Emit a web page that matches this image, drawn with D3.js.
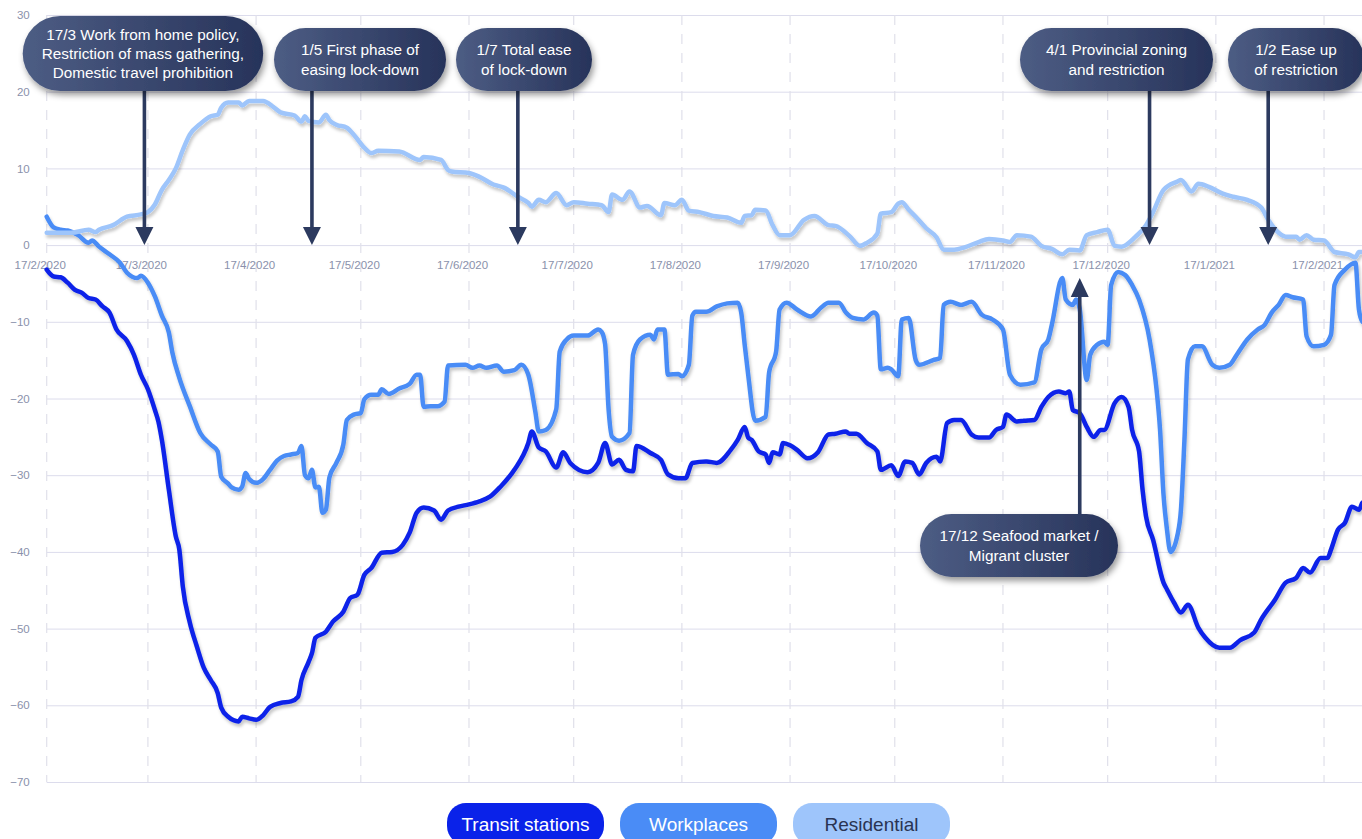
<!DOCTYPE html>
<html>
<head>
<meta charset="utf-8">
<script src="https://cdn.jsdelivr.net/npm/d3@7"></script>
<style>
body { margin: 0; background: #fff; }
svg { display: block; font-family: "Liberation Sans", Arial, Helvetica, sans-serif; }
</style>
</head>
<body>
<script>
// plot frame
var W = 1362, H = 839;
var left_pad = 46.7, top_y = 15, bottom_y = 782;
var px_per_day = 3.49, n_days = 380;

// x values are days counted from 17/2/2020
var start_label = "17/2/2020";
var x_tick_labels = ["17/2/2020","17/3/2020","17/4/2020","17/5/2020","17/6/2020","17/7/2020","17/8/2020",
	"17/9/2020","17/10/2020","17/11/2020","17/12/2020","17/1/2021","17/2/2021"];
var y_ticks = [30, 20, 10, 0, -10, -20, -30, -40, -50, -60, -70];
var series_names = ["Transit stations", "Workplaces", "Residential"];

var transit = [[0,-3.2],[2,-4.1],[4,-4.2],[6,-4.9],[8,-5.8],[10,-6.2],[12,-6.9],[14,-7.1],[16,-8.0],[18,-8.8],
	[20,-11.0],[23,-12.5],[25,-14.3],[27,-16.9],[29,-18.8],[31,-21.5],[32,-23.0],[33,-25.4],[35,-31.9],[37,-38.0],
	[38,-39.7],[39,-44.5],[41,-49.2],[43,-52.3],[45,-55.1],[47,-56.7],[49,-58.4],[50,-60.3],[52,-61.5],[55,-62.1],
	[56,-61.5],[58,-61.7],[60,-61.9],[62,-61.3],[64,-60.2],[67,-59.7],[70,-59.5],[72,-58.9],[73,-56.7],[75,-54.4],
	[76,-53.2],[77,-51.2],[80,-50.4],[82,-49.1],[85,-47.8],[87,-46.0],[89,-45.6],[91,-43.0],[93,-42.1],[96,-40.1],
	[99,-40.0],[102,-39.1],[104,-37.5],[106,-34.9],[108,-34.2],[111,-34.6],[113,-35.8],[115,-34.6],[118,-34.1],[121,-33.8],
	[124,-33.4],[127,-32.8],[130,-31.5],[134,-29.3],[138,-25.8],[139,-24.3],[141,-26.4],[143,-26.9],[146,-29.0],[148,-27.0],
	[150,-28.4],[155,-29.6],[158,-28.4],[160,-25.8],[162,-28.6],[164,-28.0],[166,-29.3],[168,-29.5],[169,-26.2],[173,-27.1],
	[176,-28.0],[178,-29.9],[181,-30.4],[183,-30.4],[185,-28.4],[189,-28.2],[192,-28.4],[196,-26.7],[198,-25.4],[200,-23.7],
	[201,-25.1],[202,-25.4],[204,-26.9],[206,-27.3],[207,-28.4],[208,-27.0],[210,-27.3],[211,-25.8],[213,-26.1],[215,-26.7],
	[218,-27.8],[221,-27.0],[224,-24.7],[226,-24.6],[229,-24.3],[230,-24.6],[232,-24.6],[235,-25.8],[238,-26.9],[239,-29.3],
	[242,-28.7],[244,-30.1],[246,-28.2],[248,-28.4],[250,-29.9],[252,-28.4],[255,-27.6],[256,-28.2],[258,-23.2],[260,-22.8],
	[262,-22.8],[265,-24.7],[267,-25.1],[270,-25.1],[272,-24.1],[274,-23.7],[275,-22.1],[278,-23.0],[280,-22.9],[283,-22.8],
	[285,-21.1],[287,-19.8],[290,-19.1],[292,-19.3],[293,-19.1],[294,-21.5],[296,-21.9],[298,-23.7],[300,-25.0],[302,-24.1],
	[303,-24.1],[306,-20.6],[308,-19.8],[310,-21.1],[311,-24.1],[313,-26.9],[314,-31.9],[315,-35.4],[317,-38.4],[320,-44.0],
	[321,-44.9],[323,-46.6],[325,-47.9],[327,-46.9],[330,-49.9],[332,-51.2],[336,-52.5],[339,-52.5],[342,-51.5],[346,-50.5],
	[348,-48.8],[352,-46.2],[355,-44.0],[358,-43.4],[360,-42.1],[362,-42.7],[365,-40.8],[367,-40.8],[368,-39.7],[370,-37.1],
	[372,-36.2],[374,-34.1],[376,-34.5],[377,-33.6],[379,-33.2]];

var workplaces = [[0,3.7],[2,2.3],[4,2.0],[6,1.9],[9,1.3],[12,0.3],[13,0.6],[15,-0.2],[18,-1.2],[21,-2.3],
	[23,-3.6],[26,-4.3],[27,-4.0],[29,-4.9],[31,-6.7],[33,-9.2],[35,-11.4],[36,-14.0],[38,-17.3],[41,-21.0],
	[44,-24.5],[47,-26.0],[49,-26.9],[50,-30.2],[52,-31.1],[53,-31.6],[55,-31.9],[56,-31.5],[57,-29.7],[58,-30.5],
	[60,-31.0],[62,-30.5],[64,-29.3],[66,-28.1],[68,-27.5],[70,-27.3],[72,-27.1],[73,-26.2],[74,-30.0],[75,-30.4],
	[76,-29.3],[77,-31.6],[78,-31.5],[79,-34.9],[80,-34.5],[81,-30.3],[83,-28.4],[85,-26.0],[86,-22.8],[88,-22.1],
	[90,-21.9],[91,-20.1],[93,-19.5],[95,-19.5],[96,-18.8],[98,-19.4],[101,-18.7],[104,-18.1],[106,-16.9],[107,-16.9],
	[108,-21.1],[110,-21.0],[112,-21.0],[114,-20.4],[115,-15.7],[120,-15.6],[122,-16.0],[124,-15.7],[126,-16.0],[129,-15.7],
	[131,-16.5],[134,-16.3],[136,-15.6],[138,-16.9],[140,-21.7],[141,-24.3],[143,-24.1],[146,-21.4],[147,-13.9],[149,-12.3],
	[151,-11.8],[155,-11.8],[158,-11.0],[159,-11.3],[160,-12.9],[161,-21.4],[162,-25.0],[164,-25.5],[167,-24.5],[168,-14.3],
	[170,-12.3],[173,-11.7],[174,-12.3],[175,-11.0],[177,-11.0],[178,-16.9],[181,-16.8],[182,-17.1],[184,-15.6],[185,-9.2],
	[186,-8.7],[189,-8.7],[192,-8.0],[195,-7.6],[198,-7.5],[199,-8.8],[200,-13.0],[201,-16.9],[203,-22.9],[206,-22.4],
	[207,-16.6],[209,-13.9],[210,-8.4],[212,-7.5],[215,-8.4],[219,-9.3],[222,-8.1],[224,-7.5],[227,-7.5],[229,-8.8],
	[231,-9.5],[234,-9.7],[237,-8.8],[238,-9.2],[239,-16.2],[241,-16.0],[242,-16.2],[244,-17.1],[245,-9.7],[247,-9.5],
	[249,-15.0],[250,-15.6],[254,-15.0],[256,-14.7],[257,-7.8],[259,-7.4],[262,-7.8],[265,-7.4],[268,-9.1],[271,-9.7],
	[274,-11.0],[276,-16.9],[279,-18.2],[283,-17.9],[285,-13.6],[287,-12.3],[288,-10.4],[291,-4.3],[292,-7.1],[294,-7.8],
	[295,-7.1],[296,-8.3],[298,-17.6],[299,-14.3],[301,-13.0],[303,-12.6],[304,-13.0],[305,-5.2],[307,-3.5],[309,-3.9],
	[311,-5.2],[313,-7.1],[316,-12.3],[318,-18.8],[319,-24.0],[320,-32.5],[321,-37.1],[322,-40.0],[324,-37.8],[325,-34.5],
	[326,-25.4],[327,-14.9],[329,-13.2],[331,-13.2],[334,-15.6],[336,-16.0],[339,-15.6],[341,-14.3],[344,-12.3],[347,-11.0],
	[349,-10.4],[351,-8.8],[353,-7.8],[355,-6.5],[357,-6.8],[360,-7.1],[361,-11.9],[363,-13.2],[366,-13.0],[368,-11.7],
	[369,-5.2],[372,-3.2],[375,-2.3],[376,-8.4],[377,-10.0],[379,-10.5]];

var residential = [[0,1.6],[7,1.6],[12,2.0],[14,1.7],[15,2.0],[19,2.6],[23,3.7],[27,4.0],[29,4.3],[31,5.3],
	[33,7.2],[35,8.5],[37,10.0],[39,12.4],[41,14.4],[44,15.8],[47,16.8],[49,17.0],[50,17.9],[52,18.6],
	[55,18.6],[56,18.2],[58,18.8],[62,18.8],[65,18.0],[67,17.3],[71,16.9],[73,16.1],[74,16.8],[75,16.2],
	[78,16.0],[80,17.0],[81,16.3],[83,15.7],[86,15.3],[88,14.4],[91,12.7],[93,12.0],[95,12.3],[101,12.2],
	[107,11.1],[108,11.5],[113,11.1],[115,9.8],[116,9.6],[121,9.4],[124,8.9],[128,7.9],[131,7.5],[135,6.3],
	[138,5.5],[139,5.0],[141,5.9],[143,5.6],[146,6.8],[149,5.2],[151,5.6],[155,5.4],[159,5.2],[161,4.3],
	[162,6.6],[165,5.9],[167,7.0],[170,4.9],[172,5.1],[176,3.9],[177,5.5],[180,5.2],[182,5.9],[184,4.5],
	[187,4.3],[191,3.8],[195,3.6],[199,2.9],[200,3.8],[202,3.9],[203,4.6],[206,4.5],[208,2.6],[210,1.3],
	[213,1.3],[217,3.3],[220,3.8],[224,2.6],[226,2.5],[230,1.2],[233,-0.1],[235,0.3],[238,1.5],[239,4.1],
	[242,4.3],[244,5.4],[245,5.6],[247,4.6],[249,3.7],[252,2.2],[255,1.0],[257,-0.6],[260,-0.6],[263,-0.3],
	[267,0.4],[270,0.8],[274,0.6],[276,0.4],[278,1.3],[282,1.1],[285,-0.1],[288,-0.5],[291,-1.2],[293,-0.6],
	[296,-0.7],[298,1.3],[301,1.7],[304,2.0],[306,-0.1],[308,-0.2],[312,1.1],[315,2.6],[317,4.3],[320,7.2],
	[324,8.3],[325,8.5],[328,7.0],[330,8.0],[333,7.6],[337,6.7],[340,6.3],[344,5.9],[348,4.9],[350,3.3],
	[353,1.6],[355,1.1],[358,1.1],[359,0.7],[361,1.3],[363,0.7],[366,0.6],[369,-0.9],[373,-1.2],[375,-1.6],
	[376,-0.9],[379,-0.9]];

// events: label lines and the day each arrow points at
var event_labels = [
	["17/3 Work from home policy,", "Restriction of mass gathering,", "Domestic travel prohibition"],
	["1/5 First phase of", "easing lock-down"],
	["1/7 Total ease", "of lock-down"],
	["4/1 Provincial zoning", "and restriction"],
	["1/2 Ease up", "of restriction"],
	["17/12 Seafood market /", "Migrant cluster"]
];
var event_days = [28, 76, 135, 316, 350, 296];

// callout boxes (x, y, w, h) and arrow direction - layout only
var event_boxes = [[22.7,16,240.5,75],[274,28,172,63],[456,28,136,63],[1020,28,193,63],[1228,28,136,63],[920,514,198,63]];
var event_up = [false, false, false, false, false, true];

var line_colors = ["#0a22e9", "#4a8cf6", "#9ec5fb"];
var legend_text_colors = ["#ffffff", "#ffffff", "#2a3452"];

function plot_it() {
	var parse = d3.utcParse("%d/%m/%Y");
	var start = parse(start_label);
	var day = function(d) { return d3.utcDay.offset(start, d) };

	var xScale = d3.scaleUtc()
		.domain([start, day(n_days)])
		.range([left_pad, left_pad + n_days * px_per_day]);
	var yScale = d3.scaleLinear().domain([-70, 30]).range([bottom_y, top_y]);

	var svg = d3.select('body').append('svg').attr('width', W).attr('height', H);
	var defs = svg.append('defs');

	var f = defs.append('filter').attr('id', 'lineshadow').attr('x', '-5%').attr('y', '-5%').attr('width', '110%').attr('height', '110%');
	f.append('feDropShadow').attr('dx', 1.5).attr('dy', 3).attr('stdDeviation', 1.6)
		.attr('flood-color', '#000').attr('flood-opacity', 0.22);
	var f2 = defs.append('filter').attr('id', 'boxshadow').attr('x', '-10%').attr('y', '-20%').attr('width', '125%').attr('height', '150%');
	f2.append('feDropShadow').attr('dx', 2).attr('dy', 4).attr('stdDeviation', 3)
		.attr('flood-color', '#000').attr('flood-opacity', 0.4);
	var g = defs.append('linearGradient').attr('id', 'boxfill').attr('x1', 0).attr('x2', 1).attr('y1', 0).attr('y2', 0);
	g.append('stop').attr('offset', 0).attr('stop-color', '#4d5d84');
	g.append('stop').attr('offset', 1).attr('stop-color', '#27335a');

	// horizontal grid + y labels
	var yAxis = d3.axisLeft(yScale).tickValues(y_ticks).tickSize(-(W - left_pad)).tickPadding(17);
	var ya = svg.append('g').attr('transform', 'translate(' + left_pad + ',0)').call(yAxis);
	ya.select('.domain').remove();
	ya.selectAll('line').attr('stroke', '#dcdcec').attr('stroke-width', 1);
	ya.selectAll('text').attr('fill', '#8a91ab').attr('font-size', '11.5px');

	// vertical dashed grid
	var tick_dates = x_tick_labels.map(parse);
	svg.append('g').selectAll('line').data(tick_dates).enter().append('line')
		.attr('x1', d => xScale(d)).attr('x2', d => xScale(d))
		.attr('y1', top_y).attr('y2', bottom_y)
		.attr('stroke', '#e0e0ea').attr('stroke-width', 1.2).attr('stroke-dasharray', '10,9');

	// x labels along the zero line
	var xAxis = d3.axisBottom(xScale).tickValues(tick_dates).tickSize(0).tickPadding(16)
		.tickFormat((d, i) => x_tick_labels[i]);
	var xa = svg.append('g').attr('transform', 'translate(0,' + yScale(0) + ')').call(xAxis);
	xa.select('.domain').remove();
	xa.selectAll('text').attr('fill', '#8a91ab').attr('font-size', '11.5px').attr('x', -7);

	// lines
	var line = d3.line()
		.x(d => xScale(day(d[0])))
		.y(d => yScale(d[1]))
		.curve(d3.curveMonotoneX);
	var all = [transit, workplaces, residential];
	svg.append('g').attr('filter', 'url(#lineshadow)').selectAll('path').data(all).enter().append('path')
		.attr('d', line).attr('fill', 'none')
		.attr('stroke', (d, i) => line_colors[i]).attr('stroke-width', 4.5)
		.attr('stroke-linejoin', 'round').attr('stroke-linecap', 'round');

	// event arrows
	var ag = svg.append('g');
	event_days.forEach(function(d, i) {
		var x = xScale(day(d)), b = event_boxes[i];
		var p;
		if (!event_up[i]) {
			var tip = yScale(0);
			p = 'M' + (x - 1.8) + ',' + (b[1] + b[3] - 2) + 'V' + (tip - 18) + 'H' + (x - 9) + 'L' + x + ',' + tip +
				'L' + (x + 9) + ',' + (tip - 18) + 'H' + (x + 1.8) + 'V' + (b[1] + b[3] - 2) + 'Z';
		} else {
			var tip2 = 278;
			p = 'M' + (x - 1.8) + ',' + (b[1] + 2) + 'V' + (tip2 + 19) + 'H' + (x - 9) + 'L' + x + ',' + tip2 +
				'L' + (x + 9) + ',' + (tip2 + 19) + 'H' + (x + 1.8) + 'V' + (b[1] + 2) + 'Z';
		}
		ag.append('path').attr('d', p).attr('fill', '#2c3a5f');
	});

	// event boxes
	event_labels.forEach(function(lines, i) {
		var b = event_boxes[i];
		var eg = svg.append('g');
		eg.append('rect').attr('x', b[0]).attr('y', b[1]).attr('width', b[2]).attr('height', b[3])
			.attr('rx', b[3] / 2).attr('fill', 'url(#boxfill)').attr('filter', 'url(#boxshadow)');
		var cy = b[1] + b[3] / 2 - (lines.length - 1) * 19.3 / 2;
		eg.selectAll('text').data(lines).enter().append('text')
			.attr('x', b[0] + b[2] / 2).attr('y', (d, j) => cy + j * 19.3)
			.attr('dy', '0.35em').attr('text-anchor', 'middle')
			.attr('fill', '#fff').attr('font-size', '15.3px').text(d => d);
	});

	// legend
	var lx = [447, 620, 793];
	var lg = svg.append('g').selectAll('g').data(series_names).enter().append('g')
		.attr('transform', (d, i) => 'translate(' + lx[i] + ',803)');
	lg.append('rect').attr('width', 157).attr('height', 42).attr('rx', 19)
		.attr('fill', (d, i) => line_colors[i]);
	lg.append('text').attr('x', 78.5).attr('y', 21).attr('dy', '0.35em').attr('text-anchor', 'middle')
		.attr('font-size', '19px').attr('fill', (d, i) => legend_text_colors[i]).text(d => d);
}
plot_it();
</script>
</body>
</html>
